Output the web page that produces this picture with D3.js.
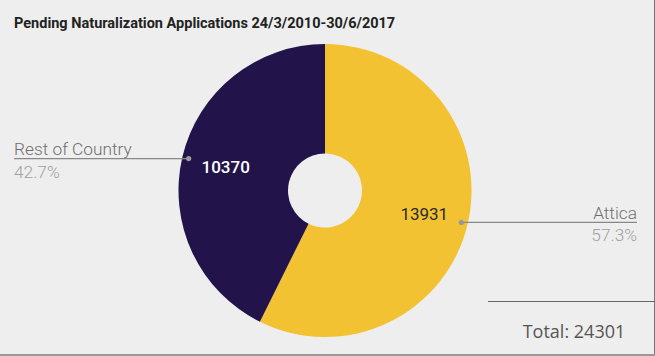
<!DOCTYPE html>
<html>
<head>
<meta charset="utf-8">
<script src="https://cdn.jsdelivr.net/npm/d3@7"></script>
<style>
html,body{margin:0;padding:0;background:#eeeeee;}
svg{display:block;}
</style>
</head>
<body>
<svg id="chart" width="655" height="356"></svg>
<script>
const title = "Pending Naturalization Applications 24/3/2010-30/6/2017";
const categories = ["Attica", "Rest of Country"];
const values = [13931, 10370];
const colors = ["#f2c232", "#22134a"];
const valueColors = ["#2b2b2b", "#ffffff"];
const totalLabel = "Total: ";

const W = 655, H = 356;
const svg = d3.select("#chart");
svg.append("rect").attr("width", W).attr("height", H).attr("fill", "#eeeeee");

// borders
svg.append("line").attr("x1", 654.5).attr("x2", 654.5).attr("y1", 0).attr("y2", H).attr("stroke", "#777").attr("stroke-width", 1);
svg.append("line").attr("x1", 0).attr("x2", W).attr("y1", 355).attr("y2", 355).attr("stroke", "#999").attr("stroke-width", 2);

svg.append("text").attr("x", 14).attr("y", 28)
  .attr("font-family", "Roboto, sans-serif").attr("font-weight", "bold")
  .attr("font-size", 14.5).attr("fill", "#222").text(title);

const cx = 325, cy = 190.5, R = 146.5, r0 = 37;
const total = d3.sum(values);
const pie = d3.pie().sort(null).value(d => d)(values);
const arc = d3.arc().innerRadius(r0).outerRadius(R);
const g = svg.append("g").attr("transform", `translate(${cx},${cy})`);
g.selectAll("path").data(pie).join("path").attr("d", arc).attr("fill", (d, i) => colors[i]);

const mid = d => (d.startAngle + d.endAngle) / 2;
const pt = (d, rr) => [rr * Math.sin(mid(d)), -rr * Math.cos(mid(d))];

pie.forEach((d, i) => {
  const [vx, vy] = pt(d, 102);
  g.append("text").attr("x", vx).attr("y", vy).attr("dy", "0.36em")
    .attr("text-anchor", "middle").attr("font-family", "Roboto, sans-serif")
    .attr("font-weight", i === 1 ? 500 : 400)
    .attr("font-size", 17).attr("fill", valueColors[i]).text(values[i]);

  const [px, py] = pt(d, 140);
  const right = px > 0;
  const endX = right ? 637 - cx : 14 - cx;
  g.append("line").attr("x1", px).attr("y1", py).attr("x2", endX).attr("y2", py)
    .attr("stroke", "#888").attr("stroke-width", 1.2);
  g.append("circle").attr("cx", px).attr("cy", py).attr("r", 2.6).attr("fill", "#999");
  const anchor = right ? "end" : "start";
  g.append("text").attr("x", endX).attr("y", py - 3.5).attr("text-anchor", anchor)
    .attr("font-family", "Roboto, sans-serif").attr("font-weight", 300).attr("font-size", 17.3).attr("fill", "#6e6e6e")
    .text(categories[i]);
  g.append("text").attr("x", endX).attr("y", py + 19).attr("text-anchor", anchor)
    .attr("font-family", "Roboto, sans-serif").attr("font-weight", 300).attr("font-size", 17.3).attr("fill", "#a0a0a0")
    .text(d3.format(".1%")(values[i] / total));
});

svg.append("line").attr("x1", 488).attr("x2", W).attr("y1", 301.5).attr("y2", 301.5)
  .attr("stroke", "#666").attr("stroke-width", 1.2);
svg.append("text").attr("x", 574).attr("y", 338).attr("text-anchor", "middle")
  .attr("font-family", "'Open Sans', sans-serif").attr("font-size", 18).attr("fill", "#555")
  .text(totalLabel + total);
</script>
</body>
</html>
